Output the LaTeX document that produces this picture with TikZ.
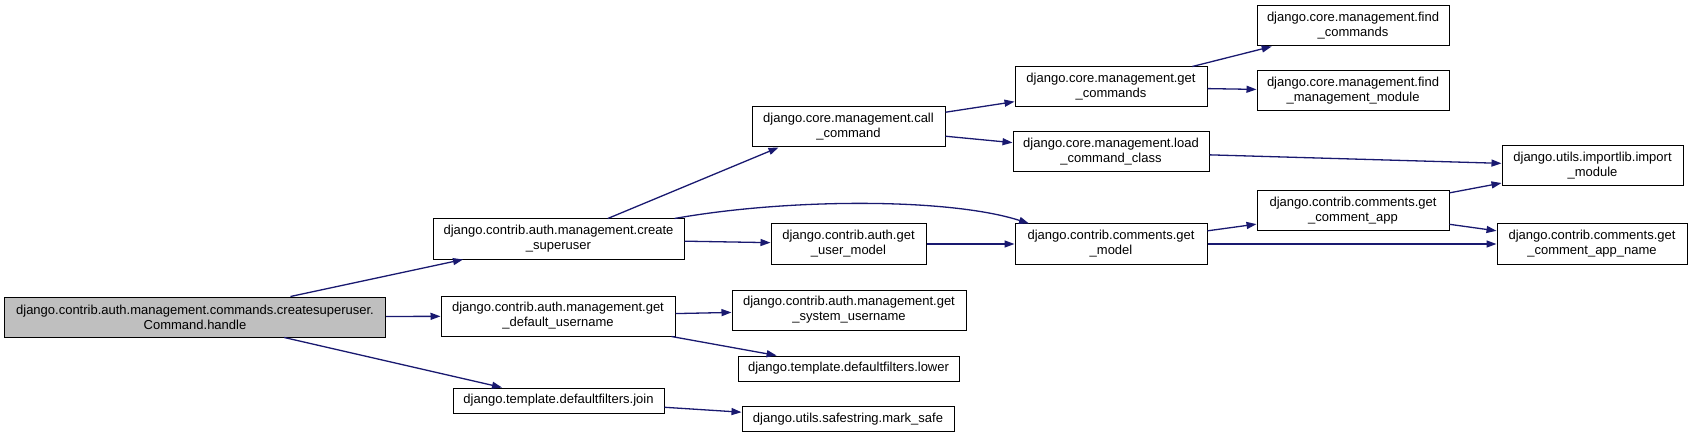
\documentclass[tikz,border=0pt]{standalone}
\usepackage{fontspec}
\setmainfont{Liberation Sans}
\usetikzlibrary{arrows.meta}
\definecolor{edgeblue}{HTML}{191970}
\definecolor{rootgray}{HTML}{BFBFBF}

\begin{document}
\begin{tikzpicture}[x=1pt,y=-1pt,
  fn/.style={draw=black,line width=1pt,fill=white,align=center,inner sep=0pt,
    font=\fontsize{13}{15}\selectfont,minimum height=40pt},
  fnone/.style={fn,minimum height=25pt},
  call/.style={draw=edgeblue,line width=1.3pt,-{Triangle[length=10pt,width=7pt]}}]
  \useasboundingbox (0,0) rectangle (1693,438); %page size in pixels

  %Column 0: the handler
  \node[fn,fill=rootgray,minimum width=381pt] (handle) at (195,317)
    {django.contrib.auth.management.commands.createsuperuser.\\Command.handle};

  %Column 1
  \node[fn,minimum width=251pt] (create) at (558.5,239) {django.contrib.auth.management.create\\\_superuser};
  \node[fn,minimum width=234pt] (defuser) at (558,316) {django.contrib.auth.management.get\\\_default\_username};
  \node[fnone,minimum width=211pt] (join) at (558.5,400.5) {django.template.defaultfilters.join};

  %Column 2
  \node[fn,minimum width=193pt] (callcmd) at (848.5,127) {django.core.management.call\\\_command};
  \node[fn,minimum width=155pt] (usermodel) at (848.5,244) {django.contrib.auth.get\\\_user\_model};
  \node[fn,minimum width=234pt] (sysuser) at (849,310) {django.contrib.auth.management.get\\\_system\_username};
  \node[fnone,minimum width=221pt] (lower) at (848.5,368.5) {django.template.defaultfilters.lower};
  \node[fnone,minimum width=212pt] (marksafe) at (848,419) {django.utils.safestring.mark\_safe};

  %Column 3
  \node[fn,minimum width=192pt] (getcmds) at (1111,87) {django.core.management.get\\\_commands};
  \node[fn,minimum width=196pt] (loadcls) at (1111,152) {django.core.management.load\\\_command\_class};
  \node[fn,minimum width=192pt] (getmodel) at (1111,244) {django.contrib.comments.get\\\_model};

  %Column 4
  \node[fn,minimum width=192pt] (findcmds) at (1353,26) {django.core.management.find\\\_commands};
  \node[fn,minimum width=192pt] (findmod) at (1353,91) {django.core.management.find\\\_management\_module};
  \node[fn,minimum width=192pt] (commentapp) at (1353,211) {django.contrib.comments.get\\\_comment\_app};

  %Column 5
  \node[fn,minimum width=181pt] (importmod) at (1592.5,166) {django.utils.importlib.import\\\_module};
  \node[fn,minimum width=190pt] (appname) at (1592,244) {django.contrib.comments.get\\\_comment\_app\_name};

  %Calls out of the handler
  \draw[call] (handle) -- (create);
  \draw[call] (handle) -- (defuser);
  \draw[call] (handle) -- (join);

  %Calls out of column 1
  \draw[call] (create) -- ([xshift=-70pt]callcmd.south);
  \draw[call] ([xshift=-10pt]create.north east) .. controls (790,198) and (950,198) .. ([xshift=-82pt]getmodel.north);
  \draw[call] (create) -- (usermodel);
  \draw[call] (defuser) -- (sysuser);
  \draw[call] (defuser) -- (lower);
  \draw[call] (join) -- (marksafe);

  %Calls out of column 2
  \draw[call] (callcmd) -- (getcmds);
  \draw[call] (callcmd) -- (loadcls);
  \draw[call] (usermodel) -- (getmodel);

  %Calls out of column 3
  \draw[call] (getcmds) -- (findcmds);
  \draw[call] (getcmds) -- (findmod);
  \draw[call] (loadcls) -- (importmod);
  \draw[call] (getmodel) -- (commentapp);
  \draw[call] (getmodel) -- (appname);

  %Calls out of column 4
  \draw[call] (commentapp) -- (importmod);
  \draw[call] (commentapp) -- (appname);
\end{tikzpicture}
\end{document}
